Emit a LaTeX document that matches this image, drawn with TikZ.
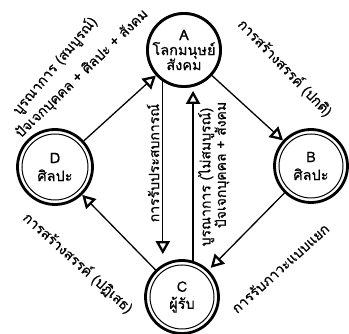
\documentclass[tikz,border=0pt]{standalone}
\usepackage{fontspec}
\setmainfont[Script=Thai,FakeBold=0.6]{Loma}
\usetikzlibrary{arrows.meta,calc}
\tikzset{
  outerc/.style={circle,draw,line width=2.8pt,minimum size=#1,inner sep=0pt},
  innerc/.style={circle,draw,line width=1pt,minimum size=#1,inner sep=0pt,align=center,font=\fontsize{14.5}{16}\selectfont},
  conn/.style={line width=1.3pt,-{Triangle[open,length=13pt,width=14pt,line width=2.3pt,fill=white]}},
  lbl/.style={inner sep=0pt,font=\fontsize{14}{15}\selectfont}
}
\begin{document}
\begin{tikzpicture}[x=1pt,y=-1pt]
\useasboundingbox (0,0) rectangle (349,334);
% nodes
\node[outerc=73pt] (a) at (184,50) {};
\node[innerc=64pt] (ai) at (a.center) {A\\[-1pt]โลกมนุษย์\\[-1pt]สังคม};
\node[outerc=73pt] (b) at (311,166) {};
\node[innerc=64pt] (bi) at (b.center) {B\\[2pt]ศิลปะ};
\node[outerc=73pt] (c) at (182,297) {};
\node[innerc=64pt] (ci) at (c.center) {C\\[1pt]ผู้รับ};
\node[outerc=75pt] (d) at (55,167) {};
\node[innerc=66pt] (di) at (d.center) {D\\[2pt]ศิลปะ};
% connectors
\draw[conn] (d) -- (a);
\draw[conn] (a) -- (b);
\draw[conn,shorten >=3pt] (b) -- (c);
\draw[conn] (c) -- (d);
\draw[conn,shorten >=5pt] (a.236) -- (a.236 |- c.north);
\draw[conn,shorten >=3pt] (c.73) -- (c.73 |- a.south);
% labels
\node[lbl,rotate=50] (l1) at (55,66) {บูรณาการ (สมบูรณ์)};
\node[lbl,rotate=44] (l2) at (82,74) {ปัจเจกบุคคล + ศิลปะ + สังคม};
\node[lbl,rotate=-46] (l3) at (285,68) {การสร้างสรรค์ (ปกติ)};
\node[lbl,rotate=-42] (l4) at (78,263) {การสร้างสรรค์ (ปฏิเสธ)};
\node[lbl,rotate=42] (l5) at (280,268) {การรับภาวะแบบแยก};
\node[lbl,rotate=90] (l6) at (153,163) {การรับประสบการณ์};
\node[lbl,rotate=90] (l7) at (206,177) {บูรณาการ (ไม่สมบูรณ์)};
\node[lbl,rotate=90] (l8) at (222,165) {ปัจเจกบุคคล + สังคม};
\end{tikzpicture}
\end{document}
